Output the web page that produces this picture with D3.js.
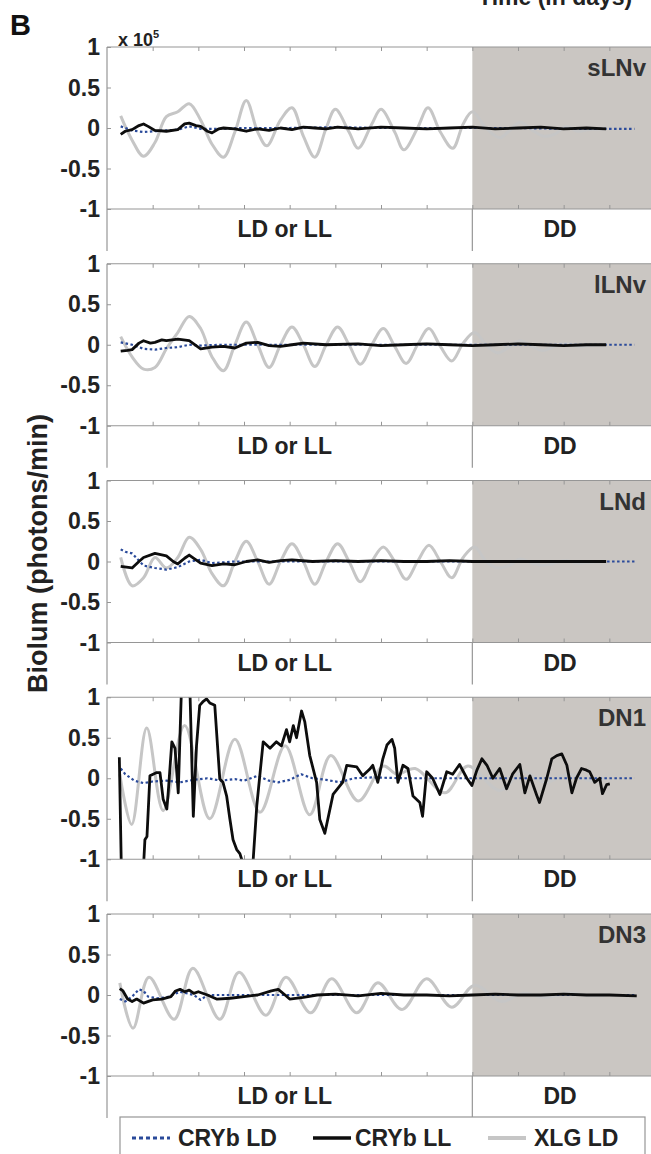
<!DOCTYPE html>
<html><head><meta charset="utf-8">
<script src="https://cdn.jsdelivr.net/npm/d3@7"></script>
<style>
html,body{margin:0;padding:0;background:#fff;overflow:hidden;}
svg text{font-family:"Liberation Sans",Arial,sans-serif;font-weight:bold;}
</style></head>
<body>
<svg id="chart" width="651" height="1154"></svg>
<script>
// ---------------- DATA ----------------
const panels = ["sLNv", "lLNv", "LNd", "DN1", "DN3"];
const yTicks = [1, 0.5, 0, -0.5, -1];
const yTickLabels = ["1", "0.5", "0", "-0.5", "-1"];
const xDomain = [0, 12];          // days
const ddStart = 8;                // start of constant darkness
const regionLabels = ["LD or LL", "DD"];
const seriesNames = ["CRYb LD", "CRYb LL", "XLG LD"];

// [day, value (x10^5 photons/min)]
const sLNv_XLG = [[0.3,0.15],[0.55,-0.15],[0.8,-0.35],[1.05,-0.18],[1.3,0.14],[1.55,0.2],[1.8,0.3],[2.05,0.1],[2.3,-0.2],[2.55,-0.36],[2.8,-0.05],[3.05,0.34],[3.3,-0.05],[3.5,-0.22],[3.8,0.1],[4.05,0.25],[4.3,-0.1],[4.55,-0.36],[4.8,0.0],[5.0,0.23],[5.3,-0.05],[5.5,-0.25],[5.8,0.05],[6.0,0.23],[6.3,-0.05],[6.5,-0.27],[6.8,0.0],[7.03,0.25],[7.3,-0.05],[7.57,-0.25],[7.8,0.05],[8.0,0.2],[8.3,0.0],[8.6,-0.12],[8.8,-0.04],[9.05,0.07],[9.3,-0.02],[9.55,-0.1],[9.8,-0.08],[10.05,0.02],[10.3,-0.04],[10.55,-0.02],[10.93,-0.01]];
const sLNv_LL = [[0.3,-0.08],[0.4,-0.04],[0.55,-0.02],[0.7,0.03],[0.8,0.05],[0.9,0.02],[1.05,-0.03],[1.3,-0.04],[1.55,-0.02],[1.7,0.05],[1.8,0.06],[1.95,0.03],[2.05,0.02],[2.2,-0.04],[2.3,-0.06],[2.45,-0.01],[2.55,0.0],[2.8,-0.01],[3.05,-0.04],[3.3,-0.01],[3.55,-0.03],[3.8,0.0],[4.05,-0.02],[4.3,0.01],[4.55,0.0],[4.8,-0.01],[5.05,0.01],[5.5,-0.01],[6.0,0.01],[6.5,0.0],[7.0,-0.01],[7.5,0.0],[8.0,0.01],[8.5,-0.01],[9.0,0.0],[9.5,0.01],[10.0,-0.01],[10.5,0.0],[10.93,-0.01]];
const sLNv_LD = [[0.3,0.02],[0.55,-0.03],[0.8,-0.05],[1.05,-0.04],[1.3,-0.03],[1.55,-0.02],[1.8,0.02],[2.05,-0.01],[2.5,-0.01],[3.0,0.0],[4.0,0.0],[5.0,0.01],[6.0,0.0],[7.0,0.0],[8.0,0.0],[9.0,0.0],[10.0,-0.01],[11.0,-0.01],[11.55,-0.01]];

const lLNv_XLG = [[0.3,0.1],[0.55,-0.15],[0.8,-0.3],[1.05,-0.28],[1.3,-0.05],[1.55,0.15],[1.8,0.35],[2.05,0.2],[2.3,-0.15],[2.55,-0.32],[2.8,0.0],[3.05,0.28],[3.3,0.0],[3.55,-0.28],[3.8,0.0],[4.05,0.22],[4.3,0.0],[4.55,-0.27],[4.8,0.0],[5.05,0.22],[5.3,0.0],[5.55,-0.24],[5.8,0.0],[6.05,0.2],[6.3,-0.02],[6.55,-0.23],[6.8,0.0],[7.05,0.2],[7.3,-0.02],[7.55,-0.2],[7.8,0.02],[8.05,0.15],[8.3,0.0],[8.55,-0.1],[8.8,-0.03],[9.05,0.05],[9.3,-0.02],[9.55,-0.07],[9.8,-0.02],[10.05,0.02],[10.3,-0.02],[10.55,-0.01],[10.93,0.0]];
const lLNv_LL = [[0.3,-0.08],[0.45,-0.07],[0.55,-0.06],[0.7,0.02],[0.8,0.05],[0.95,0.02],[1.05,0.03],[1.2,0.06],[1.3,0.05],[1.55,0.07],[1.8,0.05],[2.05,-0.05],[2.3,-0.03],[2.55,-0.02],[2.8,-0.04],[3.05,0.02],[3.3,0.03],[3.55,-0.01],[3.8,-0.02],[4.05,0.0],[4.3,0.02],[4.8,0.0],[5.5,0.01],[6.0,-0.01],[6.5,0.0],[7.0,0.01],[7.5,0.0],[8.0,-0.01],[8.5,0.0],[9.0,0.01],[9.5,0.0],[10.0,-0.01],[10.5,0.0],[10.93,0.0]];
const lLNv_LD = [[0.3,0.03],[0.55,0.0],[0.8,-0.05],[1.05,-0.06],[1.3,-0.04],[1.55,-0.03],[1.8,0.0],[2.05,-0.01],[2.5,0.0],[3.0,0.0],[4.0,0.0],[5.0,0.0],[6.0,0.0],[7.0,0.0],[8.0,0.0],[9.0,0.0],[10.0,0.0],[11.0,0.0],[11.55,0.0]];

const LNd_XLG = [[0.3,0.05],[0.55,-0.3],[0.8,-0.2],[1.05,0.05],[1.3,-0.08],[1.55,0.05],[1.8,0.3],[2.05,0.15],[2.3,-0.15],[2.55,-0.3],[2.8,0.0],[3.05,0.25],[3.3,0.0],[3.55,-0.28],[3.8,0.0],[4.05,0.22],[4.3,0.0],[4.55,-0.28],[4.8,0.0],[5.05,0.22],[5.3,0.0],[5.55,-0.25],[5.8,0.0],[6.05,0.18],[6.3,0.0],[6.55,-0.22],[6.8,0.0],[7.05,0.2],[7.3,0.0],[7.55,-0.2],[7.8,0.05],[8.05,0.18],[8.3,0.0],[8.55,-0.08],[8.8,-0.05],[9.05,0.03],[9.3,-0.02],[9.55,-0.05],[9.8,-0.02],[10.05,0.01],[10.3,-0.02],[10.55,-0.01],[10.93,0.0]];
const LNd_LL = [[0.3,-0.06],[0.55,-0.08],[0.7,0.0],[0.8,0.05],[1.05,0.1],[1.3,0.07],[1.45,0.0],[1.55,-0.03],[1.7,0.04],[1.8,0.08],[2.05,-0.02],[2.3,-0.05],[2.55,-0.03],[2.8,-0.04],[3.05,0.0],[3.3,0.02],[3.55,-0.01],[3.8,0.01],[4.05,0.02],[4.5,0.0],[5.0,0.01],[5.5,0.0],[6.0,0.01],[6.5,0.0],[7.0,0.0],[7.5,0.01],[8.0,0.0],[8.5,0.0],[9.0,0.0],[9.5,0.0],[10.0,0.0],[10.5,0.0],[10.93,0.0]];
const LNd_LD = [[0.3,0.15],[0.4,0.12],[0.55,0.1],[0.8,-0.05],[1.05,-0.08],[1.3,-0.1],[1.55,-0.07],[1.8,0.0],[2.05,0.02],[2.3,-0.02],[2.8,0.0],[3.5,0.0],[4.5,0.0],[5.5,0.0],[6.5,0.0],[7.5,0.0],[8.5,0.0],[9.5,0.0],[10.5,0.0],[11.55,0.0]];

const DN1_XLG = [[0.28,0.05],[0.54,-0.57],[0.87,0.62],[1.23,-0.4],[1.7,0.65],[2.25,-0.5],[2.8,0.48],[3.35,-0.42],[3.9,0.4],[4.44,-0.45],[4.9,0.28],[5.5,-0.28],[6.05,0.15],[6.35,0.05],[6.75,0.12],[7.4,-0.18],[7.9,0.15],[8.6,-0.15],[9.1,0.08],[9.6,-0.05],[10.1,0.05],[10.6,-0.03],[10.93,0.0]];
const DN1_LL = [[0.27,0.26],[0.32,-1.3],[0.78,-1.3],[0.83,-0.76],[0.875,-0.72],[0.94,0.03],[1.09,0.07],[1.16,0.07],[1.23,-0.26],[1.31,-0.38],[1.34,-0.18],[1.42,0.45],[1.49,0.37],[1.56,-0.18],[1.63,1.1],[1.67,1.3],[1.74,1.05],[1.82,1.0],[1.89,-0.47],[1.96,0.4],[2.03,0.9],[2.11,0.95],[2.18,0.98],[2.25,0.93],[2.36,0.9],[2.47,-0.01],[2.54,-0.05],[2.62,-0.22],[2.69,-0.5],[2.76,-0.76],[2.84,-0.88],[2.91,-0.93],[3.06,-1.2],[3.19,-1.1],[3.28,-0.34],[3.42,0.45],[3.57,0.37],[3.71,0.45],[3.82,0.4],[3.93,0.6],[4.0,0.45],[4.08,0.65],[4.15,0.5],[4.26,0.83],[4.33,0.7],[4.44,0.28],[4.59,-0.05],[4.66,-0.51],[4.77,-0.68],[4.95,-0.2],[5.16,-0.05],[5.25,0.16],[5.47,0.14],[5.6,0.03],[5.75,0.11],[5.82,0.16],[5.93,-0.05],[6.04,0.24],[6.13,0.41],[6.24,0.48],[6.3,0.37],[6.37,-0.05],[6.48,0.16],[6.59,0.12],[6.7,-0.22],[6.85,-0.3],[6.91,-0.47],[7.0,0.08],[7.13,0.0],[7.29,-0.2],[7.44,0.08],[7.57,0.05],[7.72,0.17],[7.88,0.0],[7.99,-0.09],[8.1,0.1],[8.21,0.24],[8.32,0.16],[8.45,0.0],[8.6,0.12],[8.75,-0.13],[8.88,0.05],[9.04,0.17],[9.15,-0.18],[9.26,0.03],[9.41,-0.21],[9.47,-0.3],[9.63,0.0],[9.74,0.24],[9.85,0.28],[9.96,0.3],[10.07,0.16],[10.18,-0.18],[10.28,0.0],[10.39,0.12],[10.5,0.1],[10.57,0.08],[10.68,-0.05],[10.79,0.0],[10.85,-0.19],[10.94,-0.08],[11.01,-0.07]];
const DN1_LD = [[0.3,0.12],[0.4,0.05],[0.6,-0.03],[0.8,-0.06],[1.0,-0.04],[1.3,-0.03],[1.6,-0.05],[1.9,-0.02],[2.2,0.0],[2.5,-0.03],[2.8,-0.01],[3.0,-0.03],[3.3,0.03],[3.55,-0.03],[3.75,-0.05],[4.0,-0.02],[4.25,0.05],[4.5,0.0],[4.8,-0.02],[5.1,-0.05],[5.4,0.0],[5.8,0.01],[6.5,0.0],[7.5,0.0],[8.5,0.0],[9.5,0.0],[10.5,0.0],[11.55,0.0]];

const DN3_XLG = [[0.28,0.15],[0.57,-0.41],[0.92,0.22],[1.47,-0.3],[1.88,0.33],[2.47,-0.3],[2.89,0.28],[3.48,-0.25],[3.92,0.22],[4.46,-0.22],[4.92,0.2],[5.47,-0.22],[5.93,0.15],[6.46,-0.18],[7.0,0.2],[7.55,-0.15],[8.05,0.12],[8.64,-0.08],[9.1,0.02],[9.6,-0.03],[10.1,0.02],[10.6,-0.01],[10.93,0.0]];
const DN3_LL = [[0.28,0.08],[0.35,0.05],[0.45,-0.05],[0.55,-0.08],[0.65,-0.05],[0.8,-0.1],[1.0,-0.06],[1.2,-0.05],[1.4,-0.02],[1.5,0.05],[1.6,0.07],[1.7,0.04],[1.8,0.06],[1.9,0.02],[2.0,0.04],[2.2,0.0],[2.4,-0.05],[2.7,-0.04],[3.0,-0.02],[3.3,0.0],[3.6,0.05],[3.75,0.07],[3.9,0.0],[4.0,-0.05],[4.3,-0.03],[4.6,0.0],[5.0,0.01],[5.5,-0.01],[6.0,0.02],[6.5,0.0],[7.0,0.0],[7.5,-0.01],[8.0,0.0],[8.5,0.01],[9.0,0.0],[9.5,0.0],[10.0,0.01],[10.5,0.0],[11.0,0.0],[11.6,-0.01]];
const DN3_LD = [[0.28,-0.05],[0.4,-0.08],[0.55,-0.02],[0.7,0.07],[0.8,0.05],[0.9,-0.02],[1.1,-0.04],[1.3,-0.03],[1.6,0.04],[1.9,0.0],[2.05,-0.06],[2.2,0.0],[2.6,0.0],[3.0,0.0],[4.0,0.0],[5.0,0.0],[6.0,0.0],[7.0,0.0],[8.0,0.0],[9.0,0.0],[10.0,0.0],[11.0,0.0],[11.55,0.0]];

const panelSeries = [
  [sLNv_LD, sLNv_LL, sLNv_XLG],
  [lLNv_LD, lLNv_LL, lLNv_XLG],
  [LNd_LD, LNd_LL, LNd_XLG],
  [DN1_LD, DN1_LL, DN1_XLG],
  [DN3_LD, DN3_LL, DN3_XLG]
];

// ---------------- LAYOUT ----------------
const svg = d3.select("#chart");
const left = 107, right = 655;
const panelTop0 = 47, panelStep = 216.75, panelH = 162;
const frameColor = "#969696";
const shadeColor = "#cac6c2";
const textColor = "#222";
const styles = [
  {stroke: "#2a4a9a", width: 2.2, dash: "2.5,2.5"},
  {stroke: "#0d0d0d", width: 2.8, dash: null},
  {stroke: "#c6c6c6", width: 3.0, dash: null}
];

const x = d3.scaleLinear().domain(xDomain).range([left, right]);

// header texts
svg.append("text").attr("x", 478).attr("y", 5).attr("font-size", 23).attr("fill", textColor).text("Time (in days)");
svg.append("text").attr("x", 10).attr("y", 35).attr("font-size", 29).attr("fill", "#111").text("B");
const xt = svg.append("text").attr("x", 118).attr("y", 46).attr("font-size", 18).attr("fill", textColor);
xt.append("tspan").text("x 10");
xt.append("tspan").attr("dy", -8).attr("font-size", 11).text("5");

// y-axis title
svg.append("text")
  .attr("transform", `translate(47, ${panelTop0 + 2 * panelStep + panelH / 2 - 8}) rotate(-90)`)
  .attr("text-anchor", "middle").attr("font-size", 27).attr("fill", textColor)
  .text("Biolum (photons/min)");

const defs = svg.append("defs");

panels.forEach((name, i) => {
  const top = panelTop0 + i * panelStep;
  const y = d3.scaleLinear().domain([-1, 1]).range([top + panelH, top]);
  const g = svg.append("g");

  // DD shading
  g.append("rect").attr("x", x(ddStart)).attr("y", top)
    .attr("width", x(xDomain[1]) - x(ddStart)).attr("height", panelH)
    .attr("fill", shadeColor);

  const cid = "clip" + i;
  defs.append("clipPath").attr("id", cid)
    .append("rect").attr("x", left).attr("y", top).attr("width", right - left).attr("height", panelH);

  // draw XLG first, then LD, then LL on top
  [2, 0, 1].forEach(si => {
    const st = styles[si];
    const line = d3.line().x(d => x(d[0])).y(d => y(d[1]))
      .curve(si === 2 ? d3.curveCatmullRom.alpha(0.5) : d3.curveLinear);
    const p = g.append("path").datum(panelSeries[i][si])
      .attr("clip-path", `url(#${cid})`)
      .attr("d", line).attr("fill", "none")
      .attr("stroke", st.stroke).attr("stroke-width", st.width)
      .attr("stroke-linejoin", "round");
    if (st.dash) p.attr("stroke-dasharray", st.dash);
  });

  // frame
  const frame = g.append("g").attr("stroke", frameColor).attr("stroke-width", 1.2).attr("fill", "none");
  frame.append("line").attr("x1", left).attr("x2", right).attr("y1", top).attr("y2", top);
  frame.append("line").attr("x1", left).attr("x2", right).attr("y1", top + panelH).attr("y2", top + panelH);
  frame.append("line").attr("x1", left).attr("x2", left).attr("y1", top).attr("y2", top + panelH + 42);
  frame.append("line").attr("x1", x(ddStart)).attr("x2", x(ddStart)).attr("y1", top + panelH).attr("y2", top + panelH + 42);

  // x ticks (inward, top & bottom)
  const xTickVals = d3.range(1, 12);
  const axTop = d3.axisBottom(x).tickValues(xTickVals).tickSize(4).tickFormat("");
  const axBot = d3.axisTop(x).tickValues(xTickVals).tickSize(4).tickFormat("");
  const gt = g.append("g").attr("transform", `translate(0,${top})`).call(axTop);
  const gb = g.append("g").attr("transform", `translate(0,${top + panelH})`).call(axBot);
  [gt, gb].forEach(a => { a.select(".domain").remove(); a.selectAll("line").attr("stroke", frameColor); });

  // y axis ticks + labels
  const ay = d3.axisRight(y).tickValues(yTicks).tickSize(4).tickFormat("");
  const gy = g.append("g").attr("transform", `translate(${left},0)`).call(ay);
  gy.select(".domain").remove();
  gy.selectAll("line").attr("stroke", frameColor);
  yTicks.forEach((t, k) => {
    g.append("text").attr("x", 100).attr("y", y(t) + 8).attr("text-anchor", "end")
      .attr("font-size", 23).attr("fill", textColor).text(yTickLabels[k]);
  });

  // panel label
  g.append("text").attr("x", 646).attr("y", top + 29).attr("text-anchor", "end")
    .attr("font-size", 24).attr("fill", "#333").text(name);

  // region labels
  g.append("text").attr("x", (left + x(ddStart)) / 2 - 5).attr("y", top + panelH + 28)
    .attr("text-anchor", "middle").attr("font-size", 23).attr("fill", textColor).text(regionLabels[0]);
  g.append("text").attr("x", 560).attr("y", top + panelH + 28)
    .attr("text-anchor", "middle").attr("font-size", 23).attr("fill", textColor).text(regionLabels[1]);
});

// legend
const lg = svg.append("g");
lg.append("rect").attr("x", 120).attr("y", 1117).attr("width", 525).attr("height", 50)
  .attr("fill", "#fff").attr("stroke", frameColor).attr("stroke-width", 1.2);
const legendX = [132, 313, 488];
seriesNames.forEach((n, k) => {
  const st = styles[k];
  const l = lg.append("line").attr("x1", legendX[k]).attr("x2", legendX[k] + 38)
    .attr("y1", 1138).attr("y2", 1138).attr("stroke", st.stroke).attr("stroke-width", st.width + 0.8);
  if (st.dash) l.attr("stroke-dasharray", "4,3");
  lg.append("text").attr("x", legendX[k] + (k === 1 ? 42 : 46)).attr("y", 1146)
    .attr("font-size", 23).attr("fill", textColor).text(n);
});
</script>
</body></html>
